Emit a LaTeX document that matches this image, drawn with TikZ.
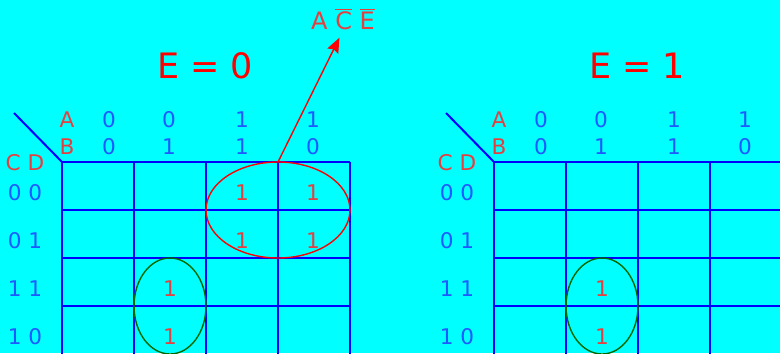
\documentclass[tikz,border=0pt]{standalone}
\usepackage{fontspec}
\setmainfont{DejaVu Sans}
\usetikzlibrary{arrows.meta,positioning}
\definecolor{bg}{RGB}{0,255,255}
\definecolor{gridblue}{RGB}{0,0,255}
\definecolor{lblred}{RGB}{228,64,64}
\definecolor{valblue}{RGB}{30,90,255}
\definecolor{loopgreen}{RGB}{0,105,0}
\tikzset{
  gridline/.style={draw=gridblue, line width=1pt},
  varlbl/.style={text=lblred, font=\fontsize{10.8}{12}\selectfont, inner sep=0pt},
  bitlbl/.style={text=valblue, font=\fontsize{10.8}{12}\selectfont, inner sep=0pt},
  onelbl/.style={text=lblred, font=\fontsize{10.8}{12}\selectfont, inner sep=0pt},
  titlelbl/.style={text=red, font=\fontsize{17.5}{20}\selectfont, inner sep=0pt},
  grp/.style={draw=loopgreen, line width=0.7pt},
  redgrp/.style={draw=red, line width=0.7pt},
  pointer/.style={draw=red, line width=0.7pt, -{Stealth[length=7.5pt,width=6pt,inset=1pt]}, shorten >=4pt}
}
\begin{document}
\begin{tikzpicture}[x=0.5pt,y=-0.5pt]
  \useasboundingbox[fill=bg] (0,0) rectangle (780,353);
  % two maps, E=0 left and E=1 right
  \foreach \m/\dx/\e in {L/0/0, R/432/1} {
    \begin{scope}[shift={(\dx,0)}]
      \node[titlelbl] (\m-title) at (205,66) {E = \e};
      \foreach \i in {0,...,4}
        \draw[gridline] (62+72*\i,162) -- (62+72*\i,360);
      \foreach \j in {0,...,3}
        \draw[gridline] (62,162+48*\j) -- (350,162+48*\j);
      \coordinate (\m-corner) at (62,162);
      \coordinate (\m-diag) at (14,113);
      \draw[gridline] (\m-diag) -- (\m-corner);
      \node[varlbl] (\m-a) at (67,120) {A};
      \node[varlbl] (\m-b) at (67,147) {B};
      \node[varlbl] (\m-cd) at (25,163) {C D};
      % column heads AB
      \foreach \va/\vb/\x [count=\k] in {0/0/109, 0/1/169, 1/1/242, 1/0/313} {
        \node[bitlbl] (\m-ca\k) at (\x,120) {\va};
        \node[bitlbl] (\m-cb\k) at (\x,147) {\vb};
      }
      % row heads CD
      \foreach \cd/\y [count=\k] in {0 0/193, 0 1/241, 1 1/289, 1 0/337}
        \node[bitlbl] (\m-r\k) at (25,\y) {\cd};
      % green loop, column 01
      \node[onelbl] (\m-one32) at (170,289) {1};
      \node[onelbl] (\m-one42) at (170,337) {1};
      \draw[grp] (170,306) ellipse [x radius=18pt, y radius=24pt];
    \end{scope}
  }
  % red loop, E=0 only
  \foreach \x/\c in {242/3, 313/4}
    \foreach \y/\r in {193/1, 241/2}
      \node[onelbl] (L-one\r\c) at (\x,\y) {1};
  \draw[redgrp] (278,210) ellipse [x radius=36pt, y radius=24pt];
  \node[onelbl, font=\fontsize{12}{14}\selectfont] (ace) at (343,19)
    {A $\overline{\mbox{C}}$ $\overline{\mbox{E}}$};
  \draw[pointer] (L-corner) ++(216,0) coordinate (L-top) -- (ace.south);
\end{tikzpicture}
\end{document}
